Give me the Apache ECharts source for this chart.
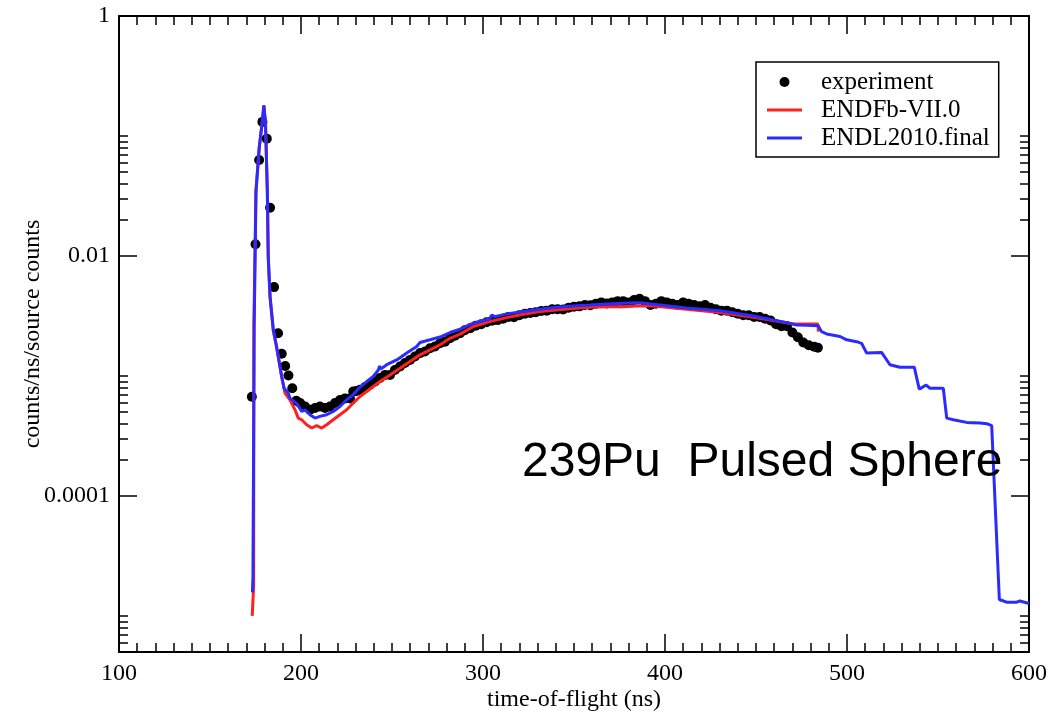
<!DOCTYPE html>
<html>
<head>
<meta charset="utf-8">
<script src="https://cdn.jsdelivr.net/npm/echarts@6/dist/echarts.min.js"></script>
<style>
html,body{margin:0;padding:0;background:#fff;}
#chart{width:1057px;height:711px;}
</style>
</head>
<body>
<div id="chart"></div>
<script>
// ---- data ----
const expTime = [
  173, 175, 177, 178.8, 181.2, 183, 185.2, 187.4, 189.4, 191.3,
  193.1, 195.2, 197.4, 199.5, 202.2, 204.9, 207.7, 210.4, 213.2, 215.9,
  218.7, 221.4, 224.2, 226.9, 228.7, 230.5, 232.4, 235.2, 237.9, 240.7,
  243.4, 246.2, 248.9, 251.6, 254.4, 257.1, 259.9, 262.6, 265.4, 268.1,
  270.9, 273.6, 276.4, 279.1, 281.9, 284.6, 287.4, 290, 293, 296,
  299, 302, 305, 308, 311, 314, 317, 320, 323, 326,
  329, 332, 335, 338, 341, 344, 347, 350, 353, 356,
  359, 362, 365, 368, 371, 374, 377, 380, 383, 386,
  389, 392, 395, 398, 401, 404, 407, 410, 413, 416,
  419, 422, 425, 428, 431, 434, 437, 440, 443, 446,
  449, 452, 455, 458, 461, 464, 467, 470, 473, 476,
  479, 482, 484
];
const expValue = [
  6.7e-4, 0.0125, 0.063, 0.131, 0.095, 0.0252, 0.0055, 0.00227, 0.00153, 0.00121,
  0.00101, 0.00079, 0.00062, 0.000594, 0.000556, 0.000522, 0.00054, 0.000556, 0.00054, 0.000556,
  0.000594, 0.00063, 0.00065, 0.00065, 0.00074, 0.00075, 0.000766, 0.000807, 0.000843, 0.000898,
  0.00096, 0.00102, 0.00102, 0.00112, 0.0012, 0.00128, 0.00136, 0.00145, 0.00155, 0.0016,
  0.0017, 0.00176, 0.00187, 0.00193, 0.00206, 0.00216, 0.00227, 0.0024, 0.0025, 0.00262,
  0.0027, 0.0028, 0.00288, 0.00292, 0.003, 0.0031, 0.00308, 0.0032, 0.0033, 0.00335,
  0.0034, 0.00348, 0.0035, 0.0036, 0.0036, 0.00358, 0.0037, 0.00378, 0.0038, 0.0039,
  0.00388, 0.004, 0.0041, 0.00402, 0.0041, 0.0042, 0.0042, 0.0041, 0.0043, 0.0044,
  0.0042, 0.0039, 0.004, 0.0042, 0.0041, 0.004, 0.0039, 0.0041, 0.004, 0.0039,
  0.0038, 0.0039, 0.0037, 0.0036, 0.0035, 0.0035, 0.0034, 0.0033, 0.0032, 0.0032,
  0.0031, 0.0031, 0.003, 0.0029, 0.0027, 0.0026, 0.0026, 0.0023, 0.0021, 0.0019,
  0.0018, 0.00175, 0.00172
];

const endfTime = [
  173.2, 174.0, 174.1, 175.2, 177.0, 178.7, 179.6, 180.5, 181.5, 182.0,
  183.0, 184.8, 186.6, 189.4, 191.2, 194.0, 196.7, 198.5, 200.4, 203.1,
  205.9, 208.6, 211.4, 214.1, 217.7, 221.4, 225.1, 228.7, 232.4, 236.1,
  239.7, 243.4, 248.9, 254.4, 259.9, 265.4, 270.9, 276.4, 281.9, 287.4,
  294.7, 303.8, 313, 322.1, 331.3, 340.5, 349.6, 358.8, 368, 377.1,
  384.4, 393.6, 411.9, 430.2, 448.5, 466.9, 470.5, 484.0, 484.3
];
const endfValue = [
  1.0e-5, 1.8e-5, 2.6e-3, 0.034, 0.079, 0.13, 0.18, 0.125, 0.034, 0.0097,
  0.0045, 0.0024, 0.00172, 0.00098, 0.00072, 0.00063, 0.000522, 0.000445, 0.000431, 0.000392,
  0.000368, 0.000385, 0.000368, 0.000392, 0.000431, 0.000475, 0.000522, 0.000594, 0.000674, 0.000741,
  0.000816, 0.000898, 0.00102, 0.00116, 0.00132, 0.0015, 0.00165, 0.00182, 0.00206, 0.00223,
  0.00258, 0.00284, 0.00306, 0.00327, 0.00344, 0.00355, 0.00364, 0.00373, 0.00378, 0.00378,
  0.00383, 0.00383, 0.0036, 0.00337, 0.00308, 0.00278, 0.00271, 0.00271, 0.00234
];

const endlTime = [
  173.3, 173.6, 174.3, 175.3, 177.1, 178.7, 179.6, 180.5, 181.5, 182.0,
  183.0, 184.8, 186.6, 189.4, 190.7, 193.0, 194.0, 195.8, 197.6, 200.4,
  202.2, 204.9, 207.7, 210.4, 214.1, 217.7, 221.4, 225.1, 228.7, 232.4,
  236.1, 239.7, 242.5, 243.2, 243.8, 247.1, 252.6, 258.1, 263.6, 265.4,
  266.0, 270.9, 276.4, 281.9, 287.4, 294.7, 303.8, 304.8, 306.6, 313,
  322.1, 331.3, 340.5, 349.6, 358.8, 368, 377.1, 386.3, 393.6, 411.9,
  430.2, 448.5, 466.9, 472.3, 478, 484.2, 486.0, 488.8, 496.2, 499.8,
  505.3, 508.0, 510.8, 519.0, 523.6, 529.1, 537.0, 539.7, 543.5, 545.5,
  552.9, 554.8, 558.4, 565.7, 573.1, 576.8, 577.7, 579.5, 583.7, 587.7,
  593.2, 595.0, 600
];
const endlValue = [
  1.57e-5, 2.1e-5, 2.8e-3, 0.035, 0.081, 0.131, 0.18, 0.127, 0.035, 0.0099,
  0.0046, 0.0024, 0.00176, 0.00099, 0.00079, 0.00072, 0.00065, 0.00062, 0.00059, 0.000506,
  0.000522, 0.000475, 0.000445, 0.00046, 0.000475, 0.000506, 0.000556, 0.000633, 0.000696, 0.000807,
  0.000898, 0.000989, 0.00112, 0.00121, 0.00114, 0.00124, 0.00136, 0.00155, 0.00176, 0.0019,
  0.00184, 0.002, 0.00211, 0.0023, 0.00245, 0.00275, 0.003, 0.00322, 0.00312, 0.00329,
  0.00344, 0.0036, 0.00373, 0.00383, 0.0039, 0.00398, 0.00403, 0.00407, 0.00395, 0.00368,
  0.0035, 0.00316, 0.00278, 0.00266, 0.00264, 0.00262, 0.00234, 0.00224, 0.00213, 0.002,
  0.00193, 0.00187, 0.00155, 0.00157, 0.00124, 0.00118, 0.00118, 0.000776, 0.00084, 0.00079,
  0.00079, 0.000445, 0.000431, 0.00041, 0.000405, 0.0004, 0.00041, 0.000385, 1.37e-5, 1.3e-5,
  1.3e-5, 1.33e-5, 1.27e-5
];

const seriesNames = ['experiment', 'ENDFb-VII.0', 'ENDL2010.final'];
const xMin = 100, xMax = 600, xStep = 100;
const yMin = 5e-6, yMax = 1;
const yMajorTicks = [1, 0.01, 0.0001];
const yMajorLabels = ['1', '0.01', '0.0001'];
const yMinorTicks = [
  0.02, 0.03, 0.04, 0.05, 0.06, 0.07, 0.08, 0.09, 0.1,
  0.0002, 0.0003, 0.0004, 0.0005, 0.0006, 0.0007, 0.0008, 0.0009, 0.001,
  0.000006, 0.000007, 0.000008, 0.000009, 0.00001
];
const xTitle = 'time-of-flight (ns)';
const yTitle = 'counts/ns/source counts';
const plotText = '239Pu  Pulsed Sphere';

// ---- chart ----
const serif = 'Liberation Serif';
const lineIcon = 'path://M0,0H35V3H0Z';
const pair = (xs, ys) => xs.map((x, i) => [x, ys[i]]);
const labelFor = v => {
  const i = yMajorTicks.findIndex(t => Math.abs(Math.log10(t) - Math.log10(v)) < 1e-6);
  return i >= 0 ? yMajorLabels[i] : '';
};

function xAxisDef(pos, show) {
  return {
    type: 'value', position: pos, min: xMin, max: xMax, interval: xStep,
    name: show ? xTitle : '', nameLocation: 'middle', nameGap: 36, nameMoveOverlap: false,
    nameTextStyle: { fontFamily: serif, fontSize: 24, color: '#000' },
    axisLine: { show: true, onZero: false, lineStyle: { color: '#000', width: 2 } },
    axisTick: { show: true, inside: true, length: 18, lineStyle: { color: '#000', width: 1.5 } },
    minorTick: { show: true, splitNumber: 10, length: 9, lineStyle: { color: '#000', width: 1.5 } },
    axisLabel: { show: show, margin: 10, fontFamily: serif, fontSize: 24, color: '#000' },
    splitLine: { show: false }, minorSplitLine: { show: false }
  };
}
function yAxisDef(pos, major, main) {
  return {
    type: 'log', logBase: 10, position: pos, min: yMin, max: yMax,
    name: main ? yTitle : '', nameLocation: 'middle', nameGap: 74, nameMoveOverlap: false,
    nameTextStyle: { fontFamily: serif, fontSize: 24, color: '#000' },
    axisLine: { show: major, onZero: false, lineStyle: { color: '#000', width: 2 } },
    axisTick: {
      show: true, inside: true, length: major ? 18 : 9,
      customValues: major ? yMajorTicks : yMinorTicks,
      lineStyle: { color: '#000', width: 1.5 }
    },
    minorTick: { show: false },
    axisLabel: {
      show: main, margin: 9, fontFamily: serif, fontSize: 24, color: '#000',
      customValues: yMajorTicks, formatter: labelFor
    },
    splitLine: { show: false }
  };
}

const chart = echarts.init(document.getElementById('chart'), null, { renderer: 'canvas' });
chart.setOption({
  animation: false,
  backgroundColor: '#fff',
  title: {
    text: plotText, left: 517, top: 434,
    textStyle: { fontFamily: 'Liberation Sans', fontSize: 48, fontWeight: 'normal', color: '#000' }
  },
  grid: { left: 119, top: 16, width: 910, height: 636, containLabel: false, outerBoundsMode: 'none' },
  legend: {
    orient: 'vertical', left: 756, top: 62,
    padding: [7, 9, 6, 11], itemGap: 2, itemWidth: 35, itemHeight: 10,
    borderColor: '#000', borderWidth: 1.5, backgroundColor: '#fff',
    textStyle: { fontFamily: serif, fontSize: 25, color: '#000', lineHeight: 26, padding: [0, 0, 0, 14] },
    data: [
      { name: seriesNames[0], icon: 'circle' },
      { name: seriesNames[1], icon: lineIcon },
      { name: seriesNames[2], icon: lineIcon }
    ]
  },
  xAxis: [xAxisDef('bottom', true), xAxisDef('top', false)],
  yAxis: [yAxisDef('left', true, true), yAxisDef('left', false, false),
          yAxisDef('right', true, false), yAxisDef('right', false, false)],
  series: [
    {
      name: seriesNames[0], type: 'scatter', data: pair(expTime, expValue),
      symbol: 'circle', symbolSize: 10, itemStyle: { color: '#000', opacity: 1 }
    },
    {
      name: seriesNames[1], type: 'line', data: pair(endfTime, endfValue),
      symbol: 'none', showSymbol: false, color: '#ff2020',
      itemStyle: { color: '#ff2020' },
      lineStyle: { color: '#ff2020', width: 3 }
    },
    {
      name: seriesNames[2], type: 'line', data: pair(endlTime, endlValue),
      symbol: 'none', showSymbol: false, color: '#2b2bff',
      itemStyle: { color: '#2b2bff' },
      lineStyle: { color: '#2b2bff', width: 3 }
    }
  ]
});
</script>
</body>
</html>
